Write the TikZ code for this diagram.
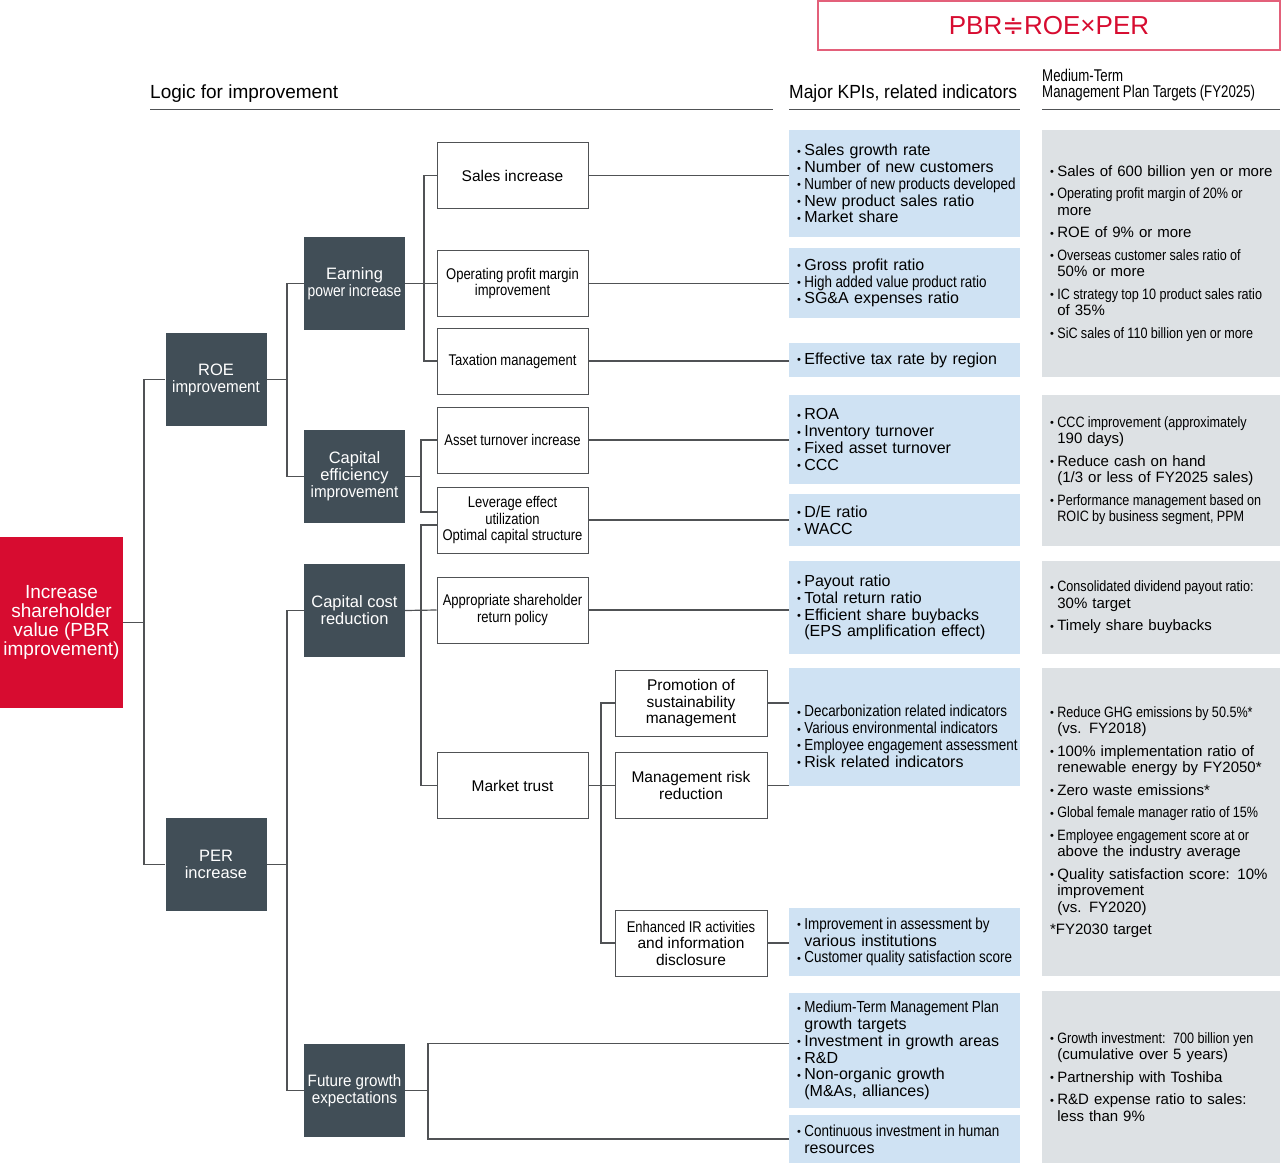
\documentclass[tikz,border=0pt]{standalone}
\usepackage{fontspec}
\setmainfont{Liberation Sans}
\newfontfamily\narfam{Liberation Sans}[FakeStretch=0.84]
\newfontfamily\snarfam{Liberation Sans}[FakeStretch=0.92]
\newfontfamily\vnarfam{Liberation Sans}[FakeStretch=0.78]
\newfontfamily\symfont{DejaVu Sans}
\usetikzlibrary{calc}

\definecolor{shvred}{HTML}{D70C30}
\definecolor{hdrred}{HTML}{E3607A}
\definecolor{darkbox}{HTML}{414E57}
\definecolor{kpiblue}{HTML}{CFE2F3}
\definecolor{tgtgray}{HTML}{DDE1E4}
\definecolor{linegray}{HTML}{505255}

\hyphenpenalty=10000
\exhyphenpenalty=10000
\newcommand\nar{\narfam\spaceskip=0.22em plus 0.05em minus 0.05em\relax}
\newcommand\snar{\snarfam\spaceskip=0.25em plus 0.05em minus 0.05em\relax}
\newcommand\vnar{\vnarfam\spaceskip=0.2em plus 0.05em minus 0.05em\relax}
\newcommand\bulmark{\raisebox{0.4pt}{\fontsize{11}{11}\selectfont •}\hspace{3.5pt}}
\newcommand\itm[1]{\mbox{\bulmark#1}}
\newcommand\cnt[1]{\mbox{\phantom{\bulmark}#1}}

\begin{document}
\begin{tikzpicture}[x=1pt, y=-1pt,
    dark/.style={fill=darkbox, text=white, minimum width=101pt, minimum height=93pt, inner sep=0pt, align=center, font=\fontsize{16.5}{17}\selectfont},
    wbox/.style={draw=linegray, line width=1pt, fill=white, minimum width=151pt, minimum height=66pt, inner sep=0pt, align=center, font=\fontsize{15.5}{16.5}\selectfont},
    kpi/.style={fill=kpiblue, text width=215pt, inner xsep=8pt, inner ysep=0pt, align=left, font=\fontsize{16}{16.8}\selectfont},
    tgt/.style={fill=tgtgray, text width=222pt, inner xsep=8pt, inner ysep=0pt, align=left, font=\fontsize{15}{16.5}\selectfont},
    link/.style={draw=linegray, line width=1.2pt},
    head/.style={anchor=base west, inner sep=0pt, font=\fontsize{19}{20}\selectfont}]

    \useasboundingbox (0,0) rectangle (1281,1166);

    \node[draw=hdrred, line width=1.2pt, minimum width=462pt, minimum height=49pt, text=shvred, font=\fontsize{26}{27}\selectfont] at (1049,25.5) (formula) {PBR{\symfont ≑}ROE×PER};

    \node[head] at (150,99) (logichead) {Logic for improvement};
    \node[head] at (789,99) (kpihead) {\snar Major KPIs, related indicators};
    \node[anchor=south west, inner sep=0pt, align=left, font=\fontsize{17}{16}\selectfont\vnar] at (1042,101) (tgthead) {Medium-Term\\Management Plan Targets (FY2025)};
    \draw[linegray, line width=1pt] (150,110) -- (773,110);
    \draw[linegray, line width=1pt] (789,110) -- (1020,110);
    \draw[linegray, line width=1pt] (1042,110) -- (1280,110);

    \node[fill=shvred, text=white, minimum width=123pt, minimum height=171pt, inner sep=0pt, align=center, font=\fontsize{19}{19}\selectfont] at (61.5,622.5) (shv) {Increase\\shareholder\\value (PBR\\improvement)};

    \node[dark] at (216,379.5) (roe) {ROE\\\snar improvement};
    \node[dark] at (216,864.5) (per) {PER\\increase};

    \node[dark] at (354.5,283.5) (earn) {Earning\\{\nar power increase}};
    \node[dark] at (354.5,476.5) (capeff) {Capital\\efficiency\\\snar improvement};
    \node[dark] at (354.5,610.5) (capcost) {Capital cost\\reduction};
    \node[dark] at (354.5,1090.5) (future) {{\snar Future growth}\\{\snar expectations}};

    \node[wbox] at (512.5,175.5) (sales) {Sales increase};
    \node[wbox] at (512.5,283.5) (opm) {\nar Operating profit margin\\\nar improvement};
    \node[wbox] at (512.5,361) (tax) {\nar Taxation management};
    \node[wbox] at (512.5,440) (asset) {\nar Asset turnover increase};
    \node[wbox] at (512.5,520) (lever) {\nar Leverage effect\\\nar utilization\\\nar Optimal capital structure};
    \node[wbox] at (512.5,610) (payout) {\nar Appropriate shareholder\\\nar return policy};
    \node[wbox] at (512.5,785.5) (trust) {Market trust};

    \node[wbox, minimum width=152pt] at (691,703) (sustain) {Promotion of\\sustainability\\management};
    \node[wbox, minimum width=152pt] at (691,785.5) (risk) {Management risk\\reduction};
    \node[wbox, minimum width=152pt] at (691,943) (ir) {{\nar Enhanced IR activities}\\and information\\disclosure};

    \node[kpi, minimum height=107pt] at (904.5,183.5) (kpi1) {\itm{Sales growth rate}\\\itm{Number of new customers}\\\itm{\nar Number of new products developed}\\\itm{New product sales ratio}\\\itm{Market share}};
    \node[kpi, minimum height=70pt] at (904.5,283) (kpi2) {\itm{Gross profit ratio}\\\itm{\nar High added value product ratio}\\\itm{SG\&A expenses ratio}};
    \node[kpi, minimum height=34pt] at (904.5,360) (kpi3) {\itm{Effective tax rate by region}};
    \node[kpi, minimum height=89pt] at (904.5,439.5) (kpi4) {\itm{ROA}\\\itm{Inventory turnover}\\\itm{Fixed asset turnover}\\\itm{CCC}};
    \node[kpi, minimum height=52pt] at (904.5,520) (kpi5) {\itm{D/E ratio}\\\itm{WACC}};
    \node[kpi, minimum height=93pt] at (904.5,607.5) (kpi6) {\itm{Payout ratio}\\\itm{Total return ratio}\\\itm{Efficient share buybacks}\\\cnt{(EPS amplification effect)}};
    \node[kpi, minimum height=118pt] at (904.5,727) (kpi7) {\mbox{}\\[13pt]\itm{\nar Decarbonization related indicators}\\\itm{\nar Various environmental indicators}\\\itm{\nar Employee engagement assessment}\\\itm{Risk related indicators}};
    \node[kpi, minimum height=68pt] at (904.5,942) (kpi8) {\itm{\nar Improvement in assessment by}\\\cnt{various institutions}\\\itm{\nar Customer quality satisfaction score}};
    \node[kpi, minimum height=115pt] at (904.5,1050.5) (kpi9) {\itm{\nar Medium-Term Management Plan}\\\cnt{growth targets}\\\itm{Investment in growth areas}\\\itm{R\&D}\\\itm{Non-organic growth}\\\cnt{(M\&As, alliances)}};
    \node[kpi, minimum height=48pt] at (904.5,1139) (kpi10) {\itm{\nar Continuous investment in human}\\\cnt{resources}};

    \node[tgt, minimum height=247pt] at (1161,253.5) (tgt1) {\itm{Sales of 600 billion yen or more}\\[6pt]\itm{\nar Operating profit margin of 20\% or}\\\cnt{more}\\[6pt]\itm{ROE of 9\% or more}\\[6pt]\itm{\nar Overseas customer sales ratio of}\\\cnt{50\% or more}\\[6pt]\itm{\nar IC strategy top 10 product sales ratio}\\\cnt{of 35\%}\\[6pt]\itm{\nar SiC sales of 110 billion yen or more}};
    \node[tgt, minimum height=151pt] at (1161,470.5) (tgt2) {\itm{\nar CCC improvement (approximately}\\\cnt{190 days)}\\[6pt]\itm{Reduce cash on hand}\\\cnt{(1/3 or less of FY2025 sales)}\\[6pt]\itm{\nar Performance management based on}\\\cnt{\nar ROIC by business segment, PPM}};
    \node[tgt, minimum height=93pt] at (1161,607.5) (tgt3) {\itm{\nar Consolidated dividend payout ratio:}\\\cnt{30\% target}\\[6pt]\itm{Timely share buybacks}};
    \node[tgt, minimum height=308pt] at (1161,822) (tgt4) {\itm{\nar Reduce GHG emissions by 50.5\%*}\\\cnt{(vs. FY2018)}\\[6pt]\itm{100\% implementation ratio of}\\\cnt{renewable energy by FY2050*}\\[6pt]\itm{Zero waste emissions*}\\[6pt]\itm{\nar Global female manager ratio of 15\%}\\[6pt]\itm{\nar Employee engagement score at or}\\\cnt{above the industry average}\\[6pt]\itm{Quality satisfaction score: 10\%}\\\cnt{improvement}\\\cnt{(vs. FY2020)}\\[6pt]*FY2030 target};
    \node[tgt, minimum height=172pt] at (1161,1077) (tgt5) {\itm{\nar Growth investment: 700 billion yen}\\\cnt{(cumulative over 5 years)}\\[6pt]\itm{Partnership with Toshiba}\\[6pt]\itm{R\&D expense ratio to sales:}\\\cnt{less than 9\%}};

    \coordinate (j0) at (144,622.5);
    \coordinate (j1) at (287,379.5);
    \coordinate (j2) at (287,864.5);
    \coordinate (j3) at (424,283.5);
    \coordinate (j4) at (421,476.5);
    \coordinate (j5) at (421,610);
    \coordinate (j6) at (428,1090.5);
    \coordinate (j7) at (601,785.5);

    \draw[link] (shv.east) -- (j0);
    \draw[link] (j0) |- (roe.west);
    \draw[link] (j0) |- (per.west);

    \draw[link] (roe.east) -- (j1);
    \draw[link] (j1) |- (earn.west);
    \draw[link] (j1) |- (capeff.west);
    \draw[link] (per.east) -- (j2);
    \draw[link] (j2) |- (capcost.west);
    \draw[link] (j2) |- (future.west);

    \draw[link] (earn.east) -- (j3);
    \draw[link] (j3) |- (sales.west);
    \draw[link] (j3) |- (opm.west);
    \draw[link] (j3) |- (tax.west);
    \draw[link] (capeff.east) -- (j4);
    \draw[link] (j4) |- (asset.west);
    \draw[link] (j4) |- ([yshift=8pt]lever.west);
    \draw[link] (capcost.east) -- (payout.west);
    \draw[link] (j5) |- ([yshift=-5pt]lever.west);
    \draw[link] (j5) |- (trust.west);
    \draw[link] (future.east) -- (j6);
    \draw[link] (j6) |- ([yshift=7pt]kpi9.west);
    \draw[link] (j6) |- (kpi10.west);

    \draw[link] (trust.east) -- (risk.west);
    \draw[link] (j7) |- (sustain.west);
    \draw[link] (j7) |- (ir.west);

    \draw[link] (sales.east) -- (sales.east -| kpi1.west);
    \draw[link] (opm.east) -- (opm.east -| kpi2.west);
    \draw[link] (tax.east) -- (tax.east -| kpi3.west);
    \draw[link] (asset.east) -- (asset.east -| kpi4.west);
    \draw[link] (lever.east) -- (lever.east -| kpi5.west);
    \draw[link] (payout.east) -- (payout.east -| kpi6.west);
    \draw[link] (sustain.east) -- (sustain.east -| kpi7.west);
    \draw[link] (risk.east) -- (risk.east -| kpi7.west);
    \draw[link] (ir.east) -- (ir.east -| kpi8.west);

\end{tikzpicture}
\end{document}
